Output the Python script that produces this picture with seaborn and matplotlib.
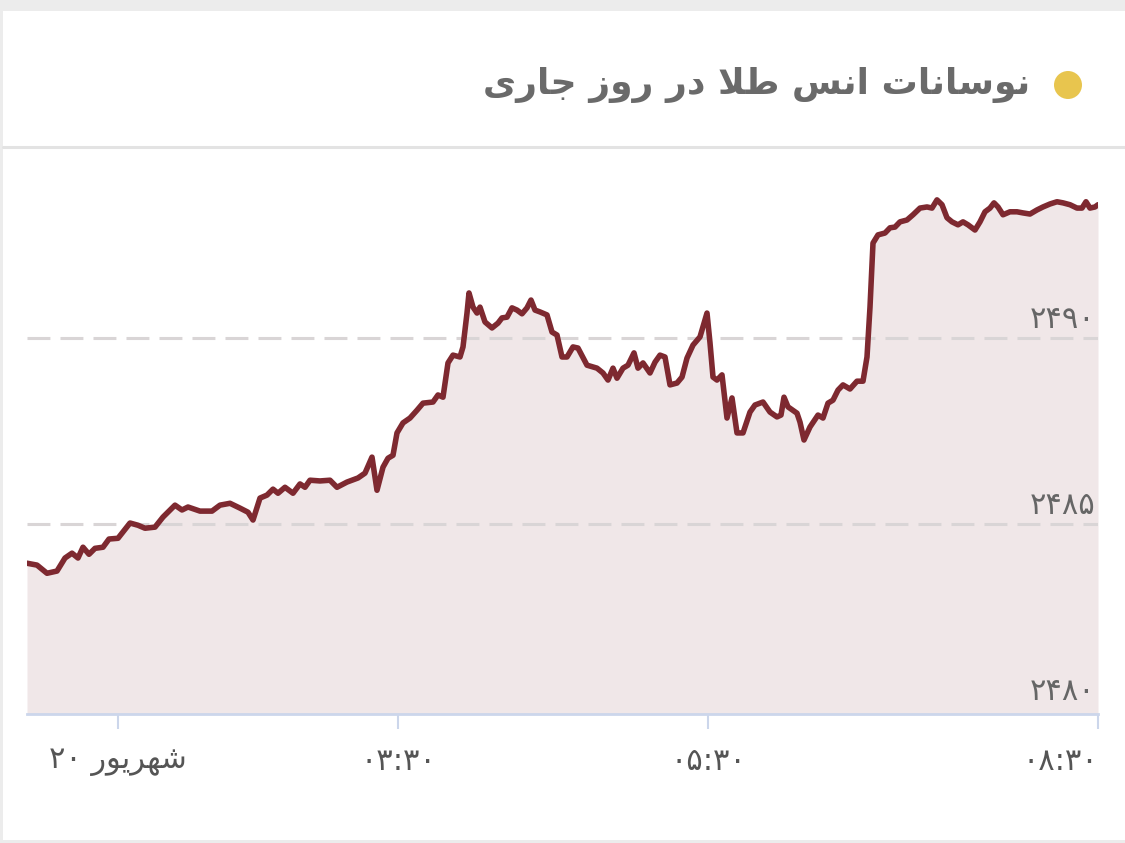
import matplotlib
matplotlib.use("Agg")
import matplotlib.pyplot as plt
import matplotlib.patches as mpatches
import matplotlib.lines as mlines
import seaborn as sns

# ----------------------------------------
# Data
# ----------------------------------------
title_text = "نوسانات انس طلا در روز جاری"

# ordinal time position along the x axis (gaps in trading removed)
t_pos = [
    0, 10, 20, 30, 38, 45, 51, 56, 62, 68, 76, 82, 91, 103, 111, 118, 128, 136,
    148, 155, 161, 173, 185, 193, 203, 213, 221, 226, 233, 240, 246, 251, 258,
    266, 273, 278, 283, 293, 303, 310, 320, 331, 338, 345, 350, 356, 361, 366,
    370, 376, 383, 390, 396, 406, 411, 416, 421, 426, 433, 436, 440, 442, 446,
    450, 453, 458, 465, 471, 475, 480, 485, 490, 495, 500, 504, 508, 513, 520,
    525, 530, 535, 540, 546, 551, 560, 570, 576, 581, 586, 590, 596, 601, 607,
    611, 616, 623, 628, 633, 638, 643, 650, 655, 660, 666, 673, 676, 680, 683,
    686, 690, 695, 700, 705, 710, 716, 723, 728, 736, 743, 750, 754, 757, 761,
    770, 773, 777, 783, 791, 796, 801, 806, 811, 816, 823, 830, 836, 840, 843,
    846, 851, 858, 863, 868, 873, 880, 886, 893, 900, 905, 910, 915, 920, 925,
    931, 936, 941, 948, 953, 958, 963, 967, 971, 976, 983, 990, 996, 1003,
    1010, 1016, 1023, 1030, 1036, 1043, 1050, 1055, 1059, 1063, 1068, 1071,
]
price = [
    2483.95, 2483.90, 2483.68, 2483.74, 2484.09, 2484.22, 2484.09, 2484.38,
    2484.19, 2484.35, 2484.38, 2484.60, 2484.62, 2485.03, 2484.97, 2484.89,
    2484.92, 2485.19, 2485.51, 2485.38, 2485.46, 2485.35, 2485.35, 2485.51,
    2485.56, 2485.43, 2485.32, 2485.11, 2485.70, 2485.78, 2485.94, 2485.83,
    2485.99, 2485.83, 2486.08, 2485.99, 2486.18, 2486.16, 2486.18, 2485.99,
    2486.13, 2486.24, 2486.37, 2486.80, 2485.91, 2486.53, 2486.77, 2486.85,
    2487.45, 2487.72, 2487.85, 2488.06, 2488.25, 2488.28, 2488.47, 2488.41,
    2489.33, 2489.54, 2489.49, 2489.76, 2490.67, 2491.21, 2490.83, 2490.67,
    2490.83, 2490.43, 2490.27, 2490.40, 2490.54, 2490.56, 2490.81, 2490.75,
    2490.65, 2490.81, 2491.02, 2490.75, 2490.70, 2490.62, 2490.16, 2490.08,
    2489.49, 2489.49, 2489.76, 2489.73, 2489.27, 2489.19, 2489.06, 2488.87,
    2489.19, 2488.92, 2489.19, 2489.27, 2489.60, 2489.19, 2489.33, 2489.06,
    2489.35, 2489.54, 2489.49, 2488.74, 2488.79, 2488.95, 2489.46, 2489.81,
    2490.03, 2490.30, 2490.67, 2489.87, 2488.95, 2488.87, 2489.01, 2487.85,
    2488.39, 2487.45, 2487.45, 2488.01, 2488.20, 2488.28, 2488.01, 2487.88,
    2487.93, 2488.41, 2488.15, 2487.98, 2487.74, 2487.26, 2487.61, 2487.93,
    2487.85, 2488.25, 2488.33, 2488.60, 2488.74, 2488.63, 2488.84, 2488.84,
    2489.49, 2490.83, 2492.55, 2492.77, 2492.82, 2492.96, 2492.98, 2493.12,
    2493.17, 2493.31, 2493.49, 2493.52, 2493.49, 2493.71, 2493.58, 2493.23,
    2493.12, 2493.04, 2493.12, 2493.04, 2492.90, 2493.12, 2493.39, 2493.49,
    2493.63, 2493.52, 2493.31, 2493.39, 2493.39, 2493.36, 2493.33, 2493.44,
    2493.52, 2493.60, 2493.66, 2493.63, 2493.58, 2493.49, 2493.49, 2493.66,
    2493.49, 2493.52, 2493.58,
]

x_tick_pos = [91, 371, 681, 1071]
x_tick_day = "۲۰"
x_tick_month = "شهریور"
x_tick_times = ["۰۳:۳۰", "۰۵:۳۰", "۰۸:۳۰"]

y_ticks = [2480, 2485, 2490]
y_tick_labels = ["۲۴۸۰", "۲۴۸۵", "۲۴۹۰"]

# ----------------------------------------
# Minimal Persian shaping (matplotlib has no bidi / joining support)
# ----------------------------------------
# isolated, final, initial, medial presentation forms
FORMS = {
    "ا": ("\uFE8D", "\uFE8E", None, None),
    "ت": ("\uFE95", "\uFE96", "\uFE97", "\uFE98"),
    "ج": ("\uFE9D", "\uFE9E", "\uFE9F", "\uFEA0"),
    "د": ("\uFEA9", "\uFEAA", None, None),
    "ر": ("\uFEAD", "\uFEAE", None, None),
    "ز": ("\uFEAF", "\uFEB0", None, None),
    "س": ("\uFEB1", "\uFEB2", "\uFEB3", "\uFEB4"),
    "ش": ("\uFEB5", "\uFEB6", "\uFEB7", "\uFEB8"),
    "ط": ("\uFEC1", "\uFEC2", "\uFEC3", "\uFEC4"),
    "ل": ("\uFEDD", "\uFEDE", "\uFEDF", "\uFEE0"),
    "ن": ("\uFEE5", "\uFEE6", "\uFEE7", "\uFEE8"),
    "ه": ("\uFEE9", "\uFEEA", "\uFEEB", "\uFEEC"),
    "و": ("\uFEED", "\uFEEE", None, None),
    "ی": ("\uFBFC", "\uFBFD", "\uFBFE", "\uFBFF"),
}


def shape_rtl(text):
    """Pick contextual forms for each letter and return visual (reversed) order."""
    chars = list(text)
    out = []
    i = 0
    while i < len(chars):
        c = chars[i]
        if c not in FORMS:
            out.append(c)
            i += 1
            continue
        prev = chars[i - 1] if i > 0 else None
        joins_prev = prev in FORMS and FORMS[prev][2] is not None
        # lam + alef ligature
        if c == "ل" and i + 1 < len(chars) and chars[i + 1] == "ا":
            out.append("\uFEFC" if joins_prev else "\uFEFB")
            i += 2
            continue
        nxt = chars[i + 1] if i + 1 < len(chars) else None
        joins_next = nxt in FORMS and FORMS[c][2] is not None
        iso, fin, ini, med = FORMS[c]
        if joins_prev and joins_next:
            out.append(med)
        elif joins_prev:
            out.append(fin)
        elif joins_next:
            out.append(ini)
        else:
            out.append(iso)
        i += 1
    return "".join(reversed(out))


# ----------------------------------------
# Plot
# ----------------------------------------
sns.set_style("white")
plt.rcParams["font.family"] = ["DejaVu Sans"]

W, H = 1125, 843
fig = plt.figure(figsize=(W / 100, H / 100), dpi=100)
fig.patch.set_facecolor("#ececec")

# white card behind everything
fig.patches.append(
    mpatches.Rectangle((3 / W, 3 / H), 1, (H - 14) / H, transform=fig.transFigure,
                       facecolor="white", edgecolor="none", zorder=-2)
)
# header separator line
fig.lines.append(
    mlines.Line2D([3 / W, 1], [1 - 147 / H] * 2, transform=fig.transFigure,
                  color="#e3e3e3", linewidth=2.2, zorder=-1)
)

# title with the yellow dot on the right
fig.text(1030 / W, 1 - 85 / H, shape_rtl(title_text), ha="right", va="center",
         fontsize=26, fontweight="bold", color="#6a6a6a")
fig.patches.append(
    mpatches.Circle((10.68, (H - 85) / 100), 0.14, transform=fig.dpi_scale_trans,
                    facecolor="#e8c54e", edgecolor="none")
)

ax = fig.add_axes([27 / W, 1 - 714 / H, (1098 - 27) / W, (714 - 150) / H])
ax.set_zorder(1)
ax.set_facecolor("none")

ymin = 2479.9
ax.fill_between(t_pos, price, ymin, color="#f0e7e8", linewidth=0, zorder=1)
sns.lineplot(x=t_pos, y=price, ax=ax, color="#7e2930", linewidth=4.0,
             solid_joinstyle="round", solid_capstyle="round", zorder=3)

ax.set_xlim(0, 1071)
ax.set_ylim(ymin, 2495.05)

# dashed horizontal grid, drawn over the fill but under the line
for v in y_ticks[1:]:
    ax.axhline(v, color="#d9d5d6", linewidth=2.2, dashes=(7.5, 3.3), zorder=2)

# y labels sit inside the plot, right aligned above their grid line
for v, lab in zip(y_ticks, y_tick_labels):
    ax.annotate(lab, xy=(1.0, v), xycoords=("axes fraction", "data"),
                xytext=(-2, 3), textcoords="offset points",
                ha="right", va="bottom", fontsize=22, color="#666666", zorder=4)
ax.set_yticks([])

# x axis
x_labels = [x_tick_day + " " + shape_rtl(x_tick_month)] + x_tick_times
ax.set_xticks(x_tick_pos)
ax.set_xticklabels(x_labels, fontsize=22, color="#555555")
ax.get_xticklabels()[-1].set_ha("right")
ax.tick_params(axis="x", bottom=True, direction="out", length=11, width=1.5,
               color="#ccd6eb", pad=13)

for side in ["top", "left", "right"]:
    ax.spines[side].set_visible(False)
ax.spines["bottom"].set_color("#ccd6eb")
ax.spines["bottom"].set_linewidth(2)

ax.set_xlabel("")
ax.set_ylabel("")

plt.savefig("out.png", dpi=100)
